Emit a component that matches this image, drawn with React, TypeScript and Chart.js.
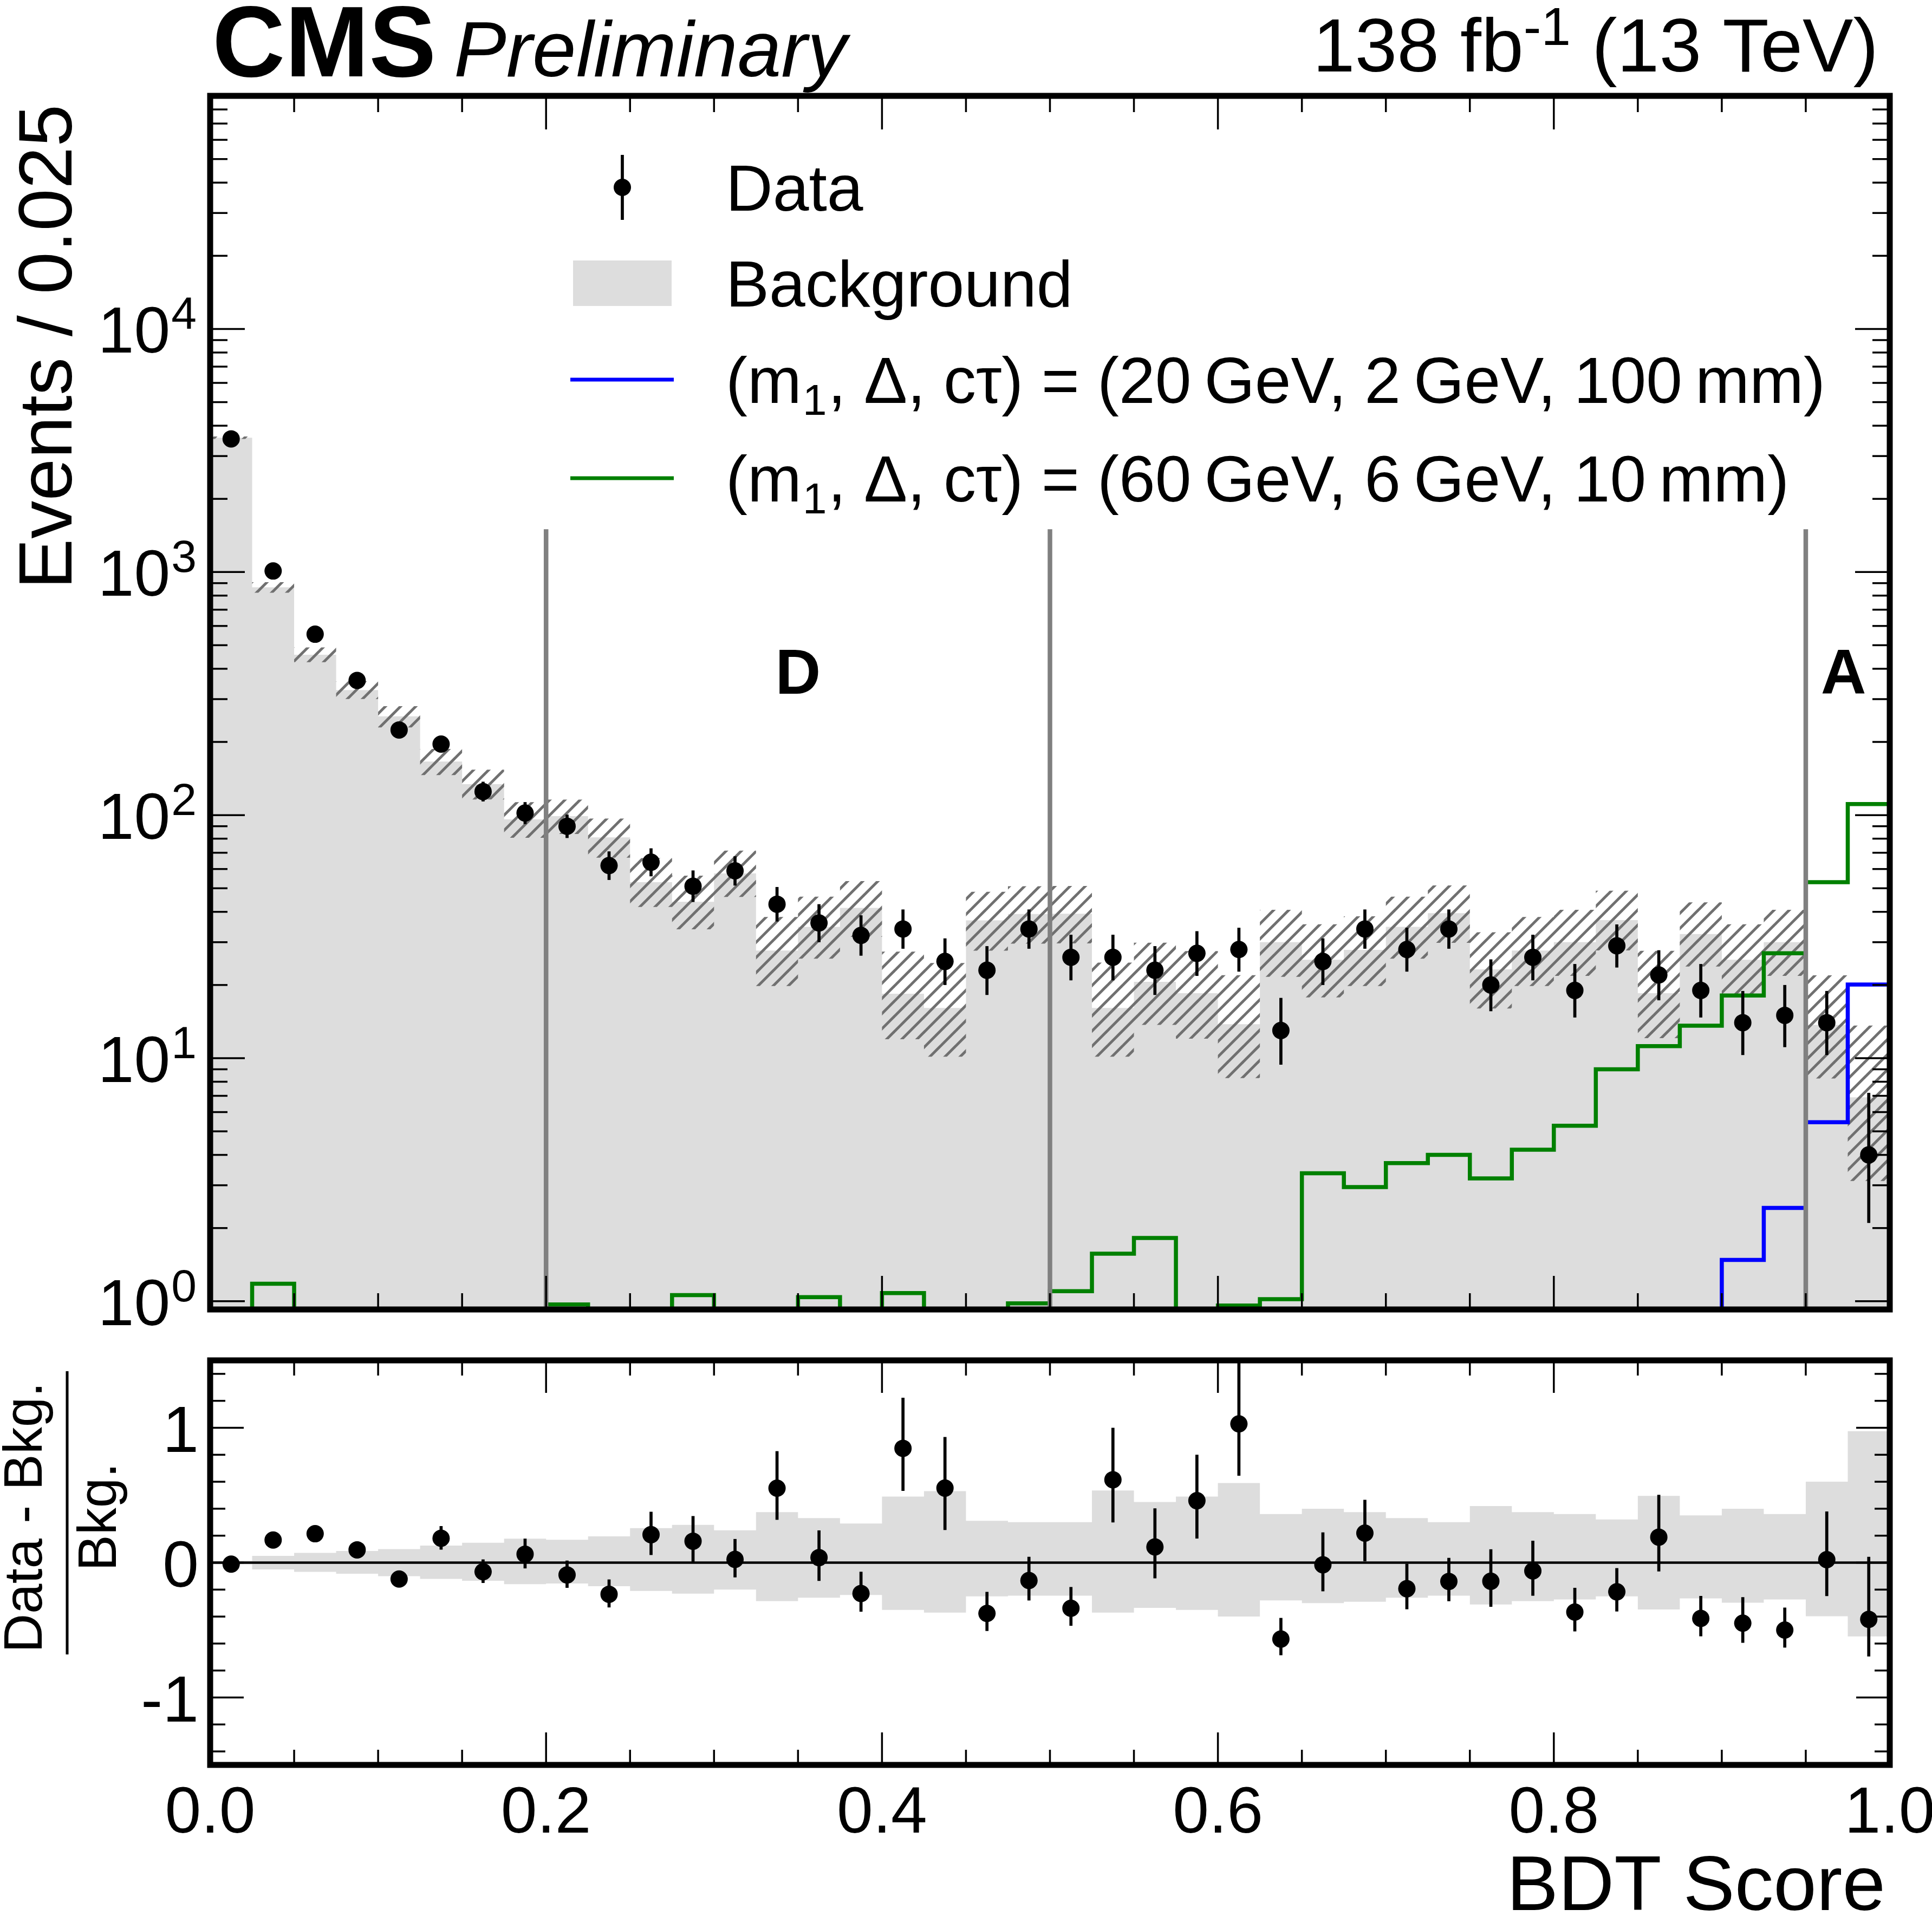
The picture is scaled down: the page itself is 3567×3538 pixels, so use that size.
import { useEffect, useRef } from 'react'
import { Chart, registerables, type ChartConfiguration, type Plugin } from 'chart.js'

Chart.register(...registerables)

// 40 bins of 0.025 in BDT score
const binWidth = 0.025
const dataCounts = [
  3530, 1010, 555, 358, 224, 196, 125, 102, 90, 62, 64, 51, 59, 43, 36, 32, 34, 25, 23, 34,
  26, 26, 23, 27, 28, 13, 25, 34, 28, 34, 20, 26, 19, 29, 22, 19, 14, 15, 14, 4,
]
const dataErrUp = [
  60, 33, 25, 20, 16, 15, 12.2, 11.1, 10.5, 8.9, 9, 8.2, 8.7, 7.6, 7.0, 6.7, 6.9, 6.1, 5.9, 6.9,
  6.2, 6.2, 5.9, 6.3, 6.4, 4.7, 6.1, 6.9, 6.4, 6.9, 5.5, 6.2, 5.4, 6.5, 5.8, 5.4, 4.9, 5.0, 4.9, 3.2,
]
const dataErrDn = [
  59, 32, 24, 19, 15, 14, 11.2, 10.1, 9.5, 7.9, 8, 7.1, 7.7, 6.5, 6.0, 5.6, 5.8, 5.0, 4.8, 5.8,
  5.1, 5.1, 4.8, 5.2, 5.3, 3.6, 5.0, 5.8, 5.3, 5.8, 4.4, 5.1, 4.3, 5.4, 4.7, 4.3, 3.7, 3.9, 3.7, 1.9,
]
const bkgCounts = [
  3570, 865, 457, 327, 255, 166, 134, 96, 99, 81, 53, 44, 57.6, 27.7, 34.7, 41.5, 18.4, 16.1, 36.9, 39.2,
  39.3, 16.1, 20.6, 18.5, 13.8, 30, 25.4, 27.9, 34.7, 39.5, 23.2, 27.7, 30, 37, 18.5, 32.4, 25.4, 30, 13.7, 6.9,
]
const bkgRelUp = [
  0.012, 0.05, 0.072, 0.086, 0.1, 0.127, 0.148, 0.178, 0.17, 0.195, 0.256, 0.28, 0.24, 0.375, 0.33, 0.29, 0.49, 0.53, 0.31, 0.3,
  0.3, 0.535, 0.45, 0.49, 0.59, 0.36, 0.4, 0.375, 0.33, 0.3, 0.42, 0.375, 0.36, 0.32, 0.495, 0.35, 0.4, 0.36, 0.6, 0.975,
]
const bkgRelDn = [
  -0.012, -0.05, -0.068, -0.082, -0.1, -0.12, -0.135, -0.16, -0.155, -0.175, -0.21, -0.23, -0.2, -0.285, -0.26, -0.24, -0.35, -0.37, -0.25, -0.245,
  -0.245, -0.37, -0.335, -0.35, -0.4, -0.28, -0.3, -0.29, -0.26, -0.245, -0.31, -0.285, -0.273, -0.25, -0.347, -0.265, -0.297, -0.273, -0.398, -0.547,
]
// (60 GeV, 6 GeV, 10 mm)
const sigGreen = [
  0, 1.18, 0, 0, 0, 0, 0, 0, 0.97, 0, 0, 1.06, 0, 0, 1.04, 0, 1.08, 0, 0, 0.98,
  1.1, 1.57, 1.82, 0, 0.96, 1.02, 3.36, 2.95, 3.7, 4.0, 3.2, 4.2, 5.27, 9.0, 11.2, 13.6, 18.1, 27, 53, 111,
]
// (20 GeV, 2 GeV, 100 mm)
const sigBlue = [
  0, 0, 0, 0, 0, 0, 0, 0, 0, 0, 0, 0, 0, 0, 0, 0, 0, 0, 0, 0,
  0, 0, 0, 0, 0, 0, 0, 0, 0, 0, 0, 0, 0, 0, 0, 0, 1.48, 2.42, 5.45, 20.1,
]

const regionEdges = [0.2, 0.5, 0.95]
const regionLineTop = 1500
const regionLabels = ['D', 'A']
const regionLabelX = [0.35, 0.9725]
const regionLabelY = 390

const xTickLabels = ['0.0', '0.2', '0.4', '0.6', '0.8', '1.0']
const logDecades = [0, 1, 2, 3, 4]
const ratioTickValues = [-1, 0, 1]
const legendText = ['Data', 'Background']
const signalLegendTail = [', Δ, cτ) = (20\u2009GeV, 2\u2009GeV, 100\u2009mm)', ', Δ, cτ) = (60\u2009GeV, 6\u2009GeV, 10\u2009mm)']

const Y_MIN = 0.925
const Y_MAX = 91000
const R_MIN = -1.5
const R_MAX = 1.5

const W = 3567
const H = 3538
const TOP_H = 2460
const FONT = '"Liberation Sans", Arial, Helvetica, sans-serif'
const BKG_GRAY = '#dddddd'
const GREEN = '#008000'
const BLUE = '#0000ff'
const FRAME_W = 11

const nBins = dataCounts.length
const binEdges = Array.from({ length: nBins + 1 }, (_, i) => i * binWidth)
const binCenters = dataCounts.map((_, i) => (i + 0.5) * binWidth)

function steps(vals: number[], floor?: number) {
  const pts: { x: number; y: number }[] = []
  vals.forEach((v, i) => {
    const y = floor !== undefined && v <= 0 ? floor : v
    pts.push({ x: binEdges[i], y }, { x: binEdges[i + 1], y })
  })
  return pts
}

function seg(ctx: CanvasRenderingContext2D, x1: number, y1: number, x2: number, y2: number) {
  ctx.beginPath()
  ctx.moveTo(x1, y1)
  ctx.lineTo(x2, y2)
  ctx.stroke()
}

function txt(ctx: CanvasRenderingContext2D, s: string, x: number, y: number, font: string, align: CanvasTextAlign = 'left') {
  ctx.font = font
  ctx.textAlign = align
  ctx.textBaseline = 'alphabetic'
  ctx.fillStyle = '#000'
  ctx.fillText(s, x, y)
}

function hatchPattern(ctx: CanvasRenderingContext2D) {
  const s = 28
  const c = document.createElement('canvas')
  c.width = s
  c.height = s
  const g = c.getContext('2d')!
  g.strokeStyle = '#707070'
  g.lineWidth = 5
  g.lineCap = 'square'
  for (let k = -1; k <= 1; k++) {
    g.beginPath()
    g.moveTo(k * s, s)
    g.lineTo(k * s + s, 0)
    g.stroke()
  }
  return ctx.createPattern(c, 'repeat')!
}

const errorBars: Plugin<'line'> = {
  id: 'errorBars',
  afterDatasetsDraw(chart) {
    const { ctx, chartArea: a, scales } = chart
    chart.data.datasets.forEach((ds: any) => {
      if (!ds.errUp) return
      ctx.save()
      ctx.beginPath()
      ctx.rect(a.left, a.top, a.right - a.left, a.bottom - a.top)
      ctx.clip()
      ctx.strokeStyle = '#000'
      ctx.lineWidth = 5.7
      ds.data.forEach((p: { x: number; y: number }, i: number) => {
        const px = scales.x.getPixelForValue(p.x)
        seg(ctx, px, scales.y.getPixelForValue(p.y + ds.errUp[i]), px, scales.y.getPixelForValue(p.y - ds.errDn[i]))
      })
      ctx.restore()
    })
  },
}

const topDecor: Plugin<'line'> = {
  id: 'topDecor',
  afterDraw(chart) {
    const { ctx, chartArea: a, scales } = chart
    const x = scales.x
    const y = scales.y
    ctx.save()

    // region labels
    regionLabels.forEach((l, i) => {
      txt(ctx, l, x.getPixelForValue(regionLabelX[i]), y.getPixelForValue(regionLabelY) + 41, `bold 116px ${FONT}`, 'center')
    })

    // ticks
    ctx.strokeStyle = '#000'
    ctx.lineWidth = 3.5
    for (let i = 0; i <= 20; i++) {
      const px = x.getPixelForValue(i * 0.05)
      const len = i % 4 === 0 ? 62 : 30
      seg(ctx, px, a.top, px, a.top + len)
      seg(ctx, px, a.bottom, px, a.bottom - len)
    }
    for (let e = -1; e <= 5; e++) {
      for (let m = 1; m <= 9; m++) {
        const v = m * Math.pow(10, e)
        if (v < Y_MIN || v > Y_MAX) continue
        const py = y.getPixelForValue(v)
        const len = m === 1 ? 64 : 32
        seg(ctx, a.left, py, a.left + len, py)
        seg(ctx, a.right, py, a.right - len, py)
      }
    }
    ctx.lineWidth = FRAME_W
    ctx.strokeRect(a.left, a.top, a.right - a.left, a.bottom - a.top)

    // log labels 10^n
    logDecades.forEach((d) => {
      const py = y.getPixelForValue(Math.pow(10, d))
      const supFont = `84px ${FONT}`
      ctx.font = supFont
      const ws = ctx.measureText(String(d)).width
      txt(ctx, String(d), a.left - 25, py, supFont, 'right')
      txt(ctx, '10', a.left - 27 - ws, py + 44, `120px ${FONT}`, 'right')
    })

    // header
    txt(ctx, 'CMS', 392, 141, `bold 186px ${FONT}`)
    txt(ctx, 'Preliminary', 838, 141, `italic 145px ${FONT}`)

    const lumiFont = `140px ${FONT}`
    const lumiSup = `98px ${FONT}`
    ctx.font = lumiFont
    const wHead = ctx.measureText('138 fb').width
    const wTail = ctx.measureText(' (13 TeV)').width
    ctx.font = lumiSup
    const wSup = ctx.measureText('-1').width
    const x0 = 3468 - wTail - wSup - wHead
    txt(ctx, '138 fb', x0, 132, lumiFont)
    txt(ctx, '-1', x0 + wHead, 83, lumiSup)
    txt(ctx, ' (13 TeV)', x0 + wHead + wSup, 132, lumiFont)

    // y title
    ctx.save()
    ctx.translate(132, 193)
    ctx.rotate(-Math.PI / 2)
    txt(ctx, 'Events / 0.025', 0, 0, `140px ${FONT}`, 'right')
    ctx.restore()

    // legend
    const legFont = `120px ${FONT}`
    const rows = [346, 523, 701, 883]
    ctx.fillStyle = '#000'
    ctx.beginPath()
    ctx.arc(1149, rows[0], 16, 0, Math.PI * 2)
    ctx.fill()
    ctx.lineWidth = 5.7
    seg(ctx, 1149, rows[0] - 60, 1149, rows[0] + 60)
    txt(ctx, legendText[0], 1340, rows[0] + 43, legFont)

    ctx.fillStyle = BKG_GRAY
    ctx.fillRect(1058, rows[1] - 42, 182, 84)
    txt(ctx, legendText[1], 1340, rows[1] + 43, legFont)

    const sigColors = [BLUE, GREEN]
    signalLegendTail.forEach((tail, i) => {
      const ry = rows[2 + i]
      ctx.strokeStyle = sigColors[i]
      ctx.lineWidth = 7
      seg(ctx, 1053, ry, 1244, ry)
      txt(ctx, '(m', 1340, ry + 43, legFont)
      ctx.font = legFont
      const w1 = ctx.measureText('(m').width
      const subFont = `80px ${FONT}`
      txt(ctx, '1', 1340 + w1 + 2, ry + 65, subFont)
      ctx.font = subFont
      const w2 = ctx.measureText('1').width
      txt(ctx, tail, 1340 + w1 + w2 + 4, ry + 43, legFont)
    })

    ctx.restore()
  },
}

const bottomDecor: Plugin<'line'> = {
  id: 'bottomDecor',
  afterDraw(chart) {
    const { ctx, chartArea: a, scales } = chart
    const x = scales.x
    const y = scales.y
    const off = TOP_H
    ctx.save()
    ctx.strokeStyle = '#000'
    ctx.lineWidth = 3.5
    for (let i = 0; i <= 20; i++) {
      const px = x.getPixelForValue(i * 0.05)
      const len = i % 4 === 0 ? 60 : 28
      seg(ctx, px, a.top, px, a.top + len)
      seg(ctx, px, a.bottom, px, a.bottom - len)
    }
    for (let i = -7; i <= 7; i++) {
      const py = y.getPixelForValue(i * 0.2)
      const len = i % 5 === 0 ? 62 : 28
      seg(ctx, a.left, py, a.left + len, py)
      seg(ctx, a.right, py, a.right - len, py)
    }
    ctx.lineWidth = FRAME_W
    ctx.strokeRect(a.left, a.top, a.right - a.left, a.bottom - a.top)

    const tickFont = `120px ${FONT}`
    xTickLabels.forEach((l) => {
      txt(ctx, l, x.getPixelForValue(parseFloat(l)), a.bottom + 125, tickFont, 'center')
    })
    ratioTickValues.forEach((v) => {
      txt(ctx, String(v), a.left - 21, y.getPixelForValue(v) + 44, tickFont, 'right')
    })

    txt(ctx, 'BDT Score', 3481, 3527 - off, `143px ${FONT}`, 'right')

    // ratio title as a fraction
    const fracFont = `100px ${FONT}`
    ctx.save()
    ctx.translate(77, 2802 - off)
    ctx.rotate(-Math.PI / 2)
    txt(ctx, 'Data - Bkg.', 0, 0, fracFont, 'center')
    ctx.restore()
    ctx.save()
    ctx.translate(214, 2801 - off)
    ctx.rotate(-Math.PI / 2)
    txt(ctx, 'Bkg.', 0, 0, fracFont, 'center')
    ctx.restore()
    ctx.lineWidth = 5
    seg(ctx, 124, 2532 - off, 124, 3055 - off)
    ctx.restore()
  },
}

const clearLine = { borderColor: 'rgba(0,0,0,0)', borderWidth: 0, pointRadius: 0 }

export default function App() {
  const topRef = useRef<HTMLCanvasElement | null>(null)
  const bottomRef = useRef<HTMLCanvasElement | null>(null)

  useEffect(() => {
    const topCanvas = topRef.current
    const bottomCanvas = bottomRef.current
    if (!topCanvas || !bottomCanvas) return
    const topCtx = topCanvas.getContext('2d')
    const bottomCtx = bottomCanvas.getContext('2d')
    if (!topCtx || !bottomCtx) return

    const hatch = hatchPattern(topCtx)

    const topConfig: ChartConfiguration<'line'> = {
      type: 'line',
      data: {
        datasets: [
          {
            label: 'Data',
            data: binCenters.map((c, i) => ({ x: c, y: dataCounts[i] })),
            showLine: false,
            pointRadius: 16,
            pointBackgroundColor: '#000',
            pointBorderWidth: 0,
            order: 0,
            errUp: dataErrUp,
            errDn: dataErrDn,
          } as any,
          ...regionEdges.map((e) => ({
            label: 'region',
            data: [
              { x: e, y: Y_MIN },
              { x: e, y: regionLineTop },
            ],
            borderColor: '#808080',
            borderWidth: 8.5,
            pointRadius: 0,
            order: 1,
          })),
          {
            label: 'sig60',
            data: steps(sigGreen, 1e-3),
            borderColor: GREEN,
            borderWidth: 7.5,
            pointRadius: 0,
            order: 2,
          },
          {
            label: 'sig20',
            data: steps(sigBlue, 1e-3),
            borderColor: BLUE,
            borderWidth: 7.5,
            pointRadius: 0,
            order: 2,
          },
          {
            label: 'bkgUp',
            data: steps(bkgCounts.map((b, i) => b * (1 + bkgRelUp[i]))),
            ...clearLine,
            fill: '+1',
            backgroundColor: hatch,
            order: 3,
          },
          {
            label: 'bkgDn',
            data: steps(bkgCounts.map((b, i) => b * (1 + bkgRelDn[i]))),
            ...clearLine,
            fill: false,
            order: 3,
          },
          {
            label: 'Background',
            data: steps(bkgCounts),
            ...clearLine,
            fill: 'start',
            backgroundColor: BKG_GRAY,
            order: 4,
          },
        ],
      },
      options: {
        animation: false,
        responsive: false,
        devicePixelRatio: 1,
        layout: { padding: { left: 388, right: W - 3489, top: 177, bottom: TOP_H - 2418 } },
        plugins: { legend: { display: false }, tooltip: { enabled: false } },
        scales: {
          x: { type: 'linear', min: 0, max: 1, display: false },
          y: { type: 'logarithmic', min: Y_MIN, max: Y_MAX, display: false },
        },
      },
      plugins: [errorBars, topDecor],
    }

    const ratioVals = dataCounts.map((d, i) => d / bkgCounts[i] - 1)
    const bottomConfig: ChartConfiguration<'line'> = {
      type: 'line',
      data: {
        datasets: [
          {
            label: 'ratio',
            data: binCenters.map((c, i) => ({ x: c, y: ratioVals[i] })),
            showLine: false,
            pointRadius: 16,
            pointBackgroundColor: '#000',
            pointBorderWidth: 0,
            order: 0,
            errUp: dataErrUp.map((e, i) => e / bkgCounts[i]),
            errDn: dataErrDn.map((e, i) => e / bkgCounts[i]),
          } as any,
          {
            label: 'zero',
            data: [
              { x: 0, y: 0 },
              { x: 1, y: 0 },
            ],
            borderColor: '#000',
            borderWidth: 4.5,
            pointRadius: 0,
            order: 1,
          },
          {
            label: 'bandUp',
            data: steps(bkgRelUp),
            ...clearLine,
            fill: '+1',
            backgroundColor: BKG_GRAY,
            order: 2,
          },
          {
            label: 'bandDn',
            data: steps(bkgRelDn),
            ...clearLine,
            fill: false,
            order: 2,
          },
        ],
      },
      options: {
        animation: false,
        responsive: false,
        devicePixelRatio: 1,
        layout: { padding: { left: 388, right: W - 3489, top: 2512 - TOP_H, bottom: H - 3259 } },
        plugins: { legend: { display: false }, tooltip: { enabled: false } },
        scales: {
          x: { type: 'linear', min: 0, max: 1, display: false },
          y: { type: 'linear', min: R_MIN, max: R_MAX, display: false },
        },
      },
      plugins: [errorBars, bottomDecor],
    }

    Chart.getChart(topCanvas)?.destroy()
    Chart.getChart(bottomCanvas)?.destroy()
    const top = new Chart(topCtx, topConfig)
    const bottom = new Chart(bottomCtx, bottomConfig)

    return () => {
      top.destroy()
      bottom.destroy()
    }
  }, [])

  return (
    <div style={{ position: 'absolute', left: 0, top: 0, width: W, height: H, background: '#fff', overflow: 'hidden' }}>
      <canvas ref={topRef} width={W} height={TOP_H} style={{ position: 'absolute', left: 0, top: 0 }} />
      <canvas ref={bottomRef} width={W} height={H - TOP_H} style={{ position: 'absolute', left: 0, top: TOP_H }} />
    </div>
  )
}
